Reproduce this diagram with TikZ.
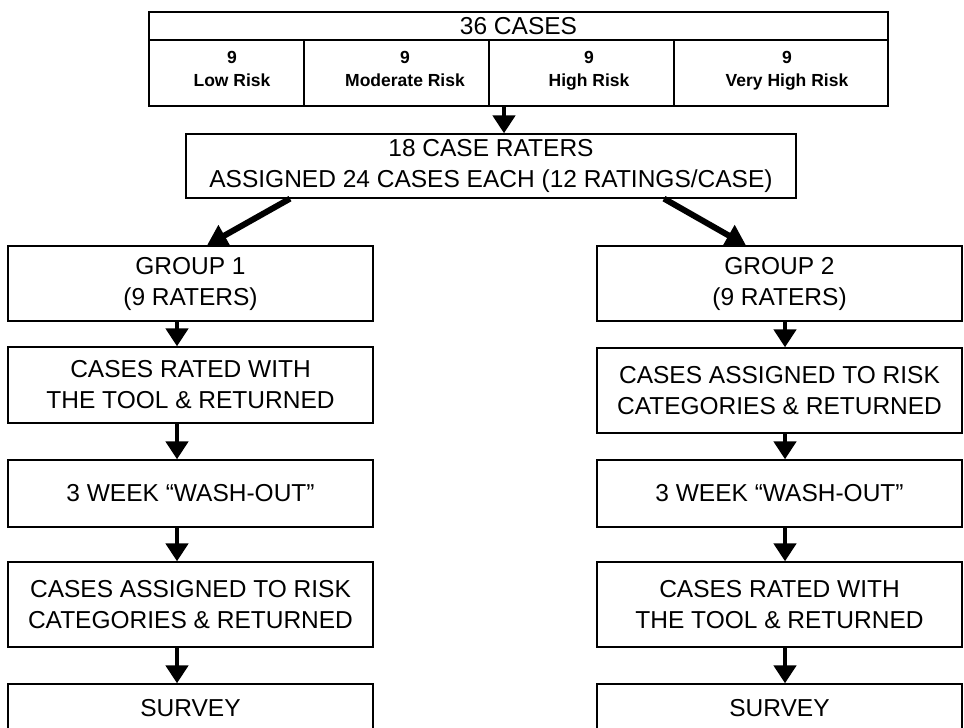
\documentclass[tikz,border=0pt]{standalone}
\usepackage{fontspec}
\setmainfont{Liberation Sans}
\usetikzlibrary{arrows.meta,calc}
\begin{document}
\begin{tikzpicture}[x=1pt,y=-1pt,
  box/.style={draw, line width=1.3pt, inner sep=0pt, align=center, font=\fontsize{24.5}{31}\selectfont},
  cell/.style={draw, line width=1.3pt, inner sep=0pt},
  risk/.style={align=center, inner sep=0pt, anchor=north, font=\bfseries\fontsize{17.5}{23}\selectfont},
  varr/.style={line width=4.5pt, -{Triangle[width=22pt,length=18pt]}},
  darr/.style={line width=6pt, -{Triangle[width=23pt,length=20pt]}}]
\useasboundingbox (0,0) rectangle (964,728);
\clip (0,0) rectangle (964,728);
% top table
\node[box, minimum width=739pt, minimum height=28pt] (title) at (518.5,26) {36 CASES};
\node[cell, minimum width=155pt, minimum height=66pt] (c1) at (226.5,73) {};
\node[cell, minimum width=185pt, minimum height=66pt] (c2) at (396.5,73) {};
\node[cell, minimum width=185pt, minimum height=66pt] (c3) at (581.5,73) {};
\node[cell, minimum width=214pt, minimum height=66pt] (c4) at (781,73) {};
\node[risk] (r1) at (232,51) {9\\Low Risk};
\node[risk] (r2) at (405,51) {9\\Moderate Risk};
\node[risk] (r3) at (589,51) {9\\High Risk};
\node[risk] (r4) at (787,51) {9\\Very High Risk};
% raters
\node[box, minimum width=610pt, minimum height=64pt] (raters) at (491,166) {18 CASE RATERS\\ASSIGNED 24 CASES EACH (12 RATINGS/CASE)};
% left column
\node[box, minimum width=365pt, minimum height=75pt] (g1) at (190.5,283.5) {GROUP 1\\(9 RATERS)};
\node[box, minimum width=365pt, minimum height=76pt] (l2) at (190.5,385) {CASES RATED WITH\\THE TOOL \& RETURNED};
\node[box, minimum width=365pt, minimum height=67pt] (l3) at (190.5,493.5) {3 WEEK “WASH-OUT”};
\node[box, minimum width=365pt, minimum height=85pt] (l4) at (190.5,604.5) {CASES ASSIGNED TO RISK\\CATEGORIES \& RETURNED};
\node[box, minimum width=365pt, minimum height=48pt] (l5) at (190.5,708) {SURVEY};
% right column
\node[box, minimum width=365pt, minimum height=75pt] (g2) at (779.5,283.5) {GROUP 2\\(9 RATERS)};
\node[box, minimum width=365pt, minimum height=85pt] (r2b) at (779.5,390.5) {CASES ASSIGNED TO RISK\\CATEGORIES \& RETURNED};
\node[box, minimum width=365pt, minimum height=67pt] (r3b) at (779.5,493.5) {3 WEEK “WASH-OUT”};
\node[box, minimum width=365pt, minimum height=85pt] (r4b) at (779.5,604.5) {CASES RATED WITH\\THE TOOL \& RETURNED};
\node[box, minimum width=365pt, minimum height=48pt] (r5b) at (779.5,708) {SURVEY};
% arrows
\draw[varr] ([xshift=-77.5pt]c3.south) -- ([xshift=13pt]raters.north);
\draw[darr] ([xshift=-201pt]raters.south) -- ([xshift=16.5pt]g1.north);
\draw[darr] ([xshift=173pt]raters.south) -- ([xshift=-33.5pt]g2.north);
\draw[varr] ([xshift=-13.5pt]g1.south) -- ([xshift=-13.5pt]l2.north);
\draw[varr] ([xshift=-13.5pt]l2.south) -- ([xshift=-13.5pt]l3.north);
\draw[varr] ([xshift=-13.5pt]l3.south) -- ([xshift=-13.5pt]l4.north);
\draw[varr] ([xshift=-13.5pt]l4.south) -- ([xshift=-13.5pt]l5.north);
\draw[varr] ([xshift=5.5pt]g2.south) -- ([xshift=5.5pt]r2b.north);
\draw[varr] ([xshift=5.5pt]r2b.south) -- ([xshift=5.5pt]r3b.north);
\draw[varr] ([xshift=5.5pt]r3b.south) -- ([xshift=5.5pt]r4b.north);
\draw[varr] ([xshift=5.5pt]r4b.south) -- ([xshift=5.5pt]r5b.north);
\end{tikzpicture}
\end{document}
